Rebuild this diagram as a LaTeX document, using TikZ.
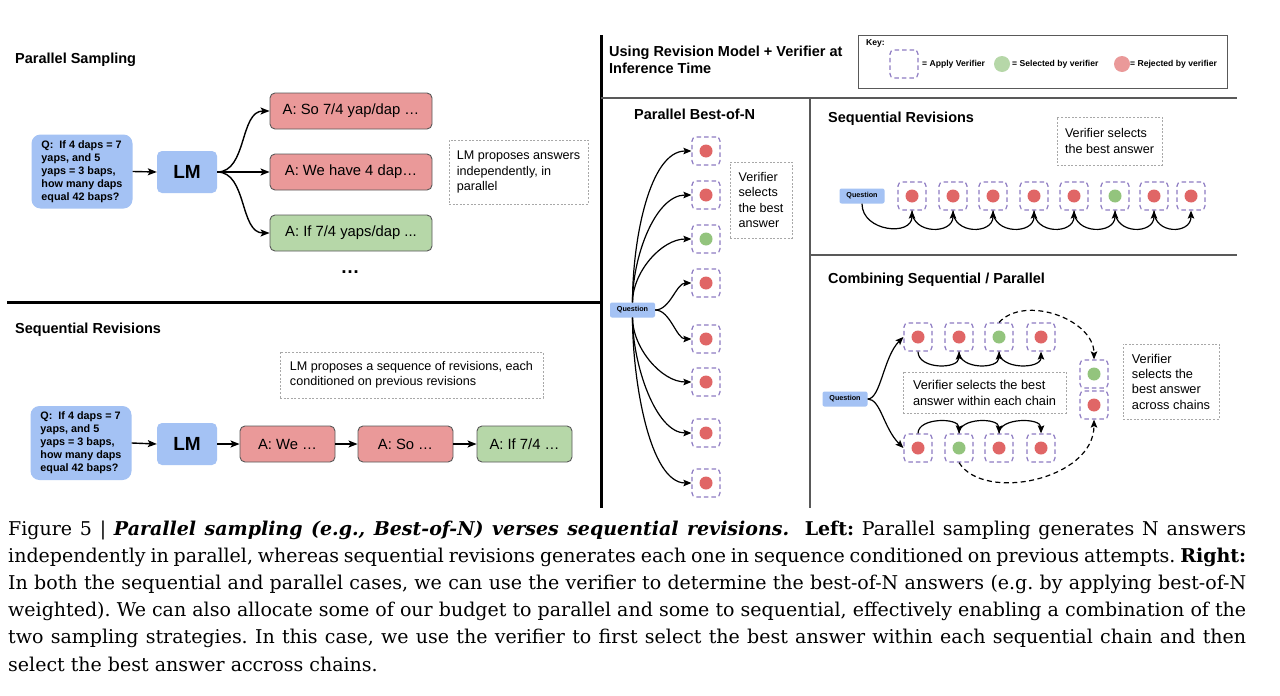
\documentclass[tikz,border=0pt]{standalone}
\usepackage{fontspec}
\setmainfont{DejaVu Serif}
\newfontfamily\arial{Liberation Sans}
\usetikzlibrary{arrows.meta}
\definecolor{qblue}{HTML}{A4C2F4}
\definecolor{ansred}{HTML}{EA9999}
\definecolor{ansgreen}{HTML}{B6D7A8}
\definecolor{dotred}{HTML}{E06666}
\definecolor{dotgreen}{HTML}{93C47D}
\definecolor{vpurple}{HTML}{8E7CC3}
\definecolor{notegray}{HTML}{A8A8A8}
\definecolor{framegray}{HTML}{595959}
\newcommand\fsz[2]{\fontsize{#1}{#2}\selectfont}
\begin{document}
\begin{tikzpicture}[x=1pt,y=-1pt,
  every node/.style={font=\arial},
  ttl/.style={anchor=west, inner sep=0, align=left, font=\arial\bfseries\fsz{14.5}{17}},
  qbox/.style={fill=qblue, rounded corners=9pt, minimum width=101pt, minimum height=74pt, inner sep=0, align=left, font=\arial\bfseries\fsz{10.8}{13}},
  lmbox/.style={fill=qblue, rounded corners=5pt, minimum width=60pt, minimum height=42pt, inner sep=0, font=\arial\bfseries\fsz{19}{20}},
  ans/.style={draw=framegray, line width=0.9pt, rounded corners=5pt, minimum height=36pt, inner sep=0, font=\arial\fsz{14.8}{16}},
  redans/.style={ans, fill=ansred},
  greenans/.style={ans, fill=ansgreen},
  note/.style={draw=notegray, dash pattern=on 2pt off 1.6pt, line width=0.8pt, inner sep=0, align=left, font=\arial\fsz{12.6}{15.3}},
  arr/.style={-{Stealth[length=9pt,width=7pt,inset=2pt]}, line width=1.4pt},
  sarr/.style={-{Stealth[length=8pt,width=6.5pt,inset=1.5pt]}, line width=1.2pt},
  darr/.style={sarr, dash pattern=on 5pt off 3.5pt},
  qn/.style={fill=qblue, rounded corners=2pt, minimum width=45pt, minimum height=15pt, inner sep=0, font=\arial\bfseries\fsz{7.2}{8}},
  vsq/.style={draw=vpurple, dash pattern=on 4.5pt off 3pt, line width=1.2pt, rounded corners=4pt, minimum size=28pt, inner sep=0},
  rdot/.style={circle, fill=dotred, minimum size=13pt, inner sep=0},
  gdot/.style={circle, fill=dotgreen, minimum size=13pt, inner sep=0},
  keyt/.style={anchor=west, inner sep=0, font=\arial\bfseries\fsz{8.6}{9}}
]
\useasboundingbox (0,0) rectangle (1280,696);
\fill[white] (0,0) rectangle (1280,696);

% ---------- left top: parallel sampling ----------
\node[ttl] (t1) at (15,60) {Parallel Sampling};
\node[qbox] (q1) at (82,171.5) {Q:\ \ If 4 daps = 7\\yaps, and 5\\yaps = 3 baps,\\how many daps\\equal 42 baps?};
\node[lmbox] (lm1) at (187,172) {LM};
\node[redans, minimum width=162pt] (a1) at (351,111) {A: So 7/4 yap/dap …};
\node[redans, minimum width=162pt] (a2) at (351,172) {A: We have 4 dap…};
\node[greenans, minimum width=162pt] (a3) at (351,233) {A: If 7/4 yaps/dap ...};
\node[inner sep=0, font=\arial\bfseries\fsz{19}{20}] (dots) at (350,272) {…};
\node[note, minimum width=139pt, minimum height=64pt] (n1) at (518.5,172) {LM proposes answers\\independently, in\\parallel};
\draw[arr] (q1.east) -- (lm1.west);
\draw[arr] (lm1.east) .. controls +(30,0) and +(-30,0) .. (a1.west);
\draw[arr] (lm1.east) -- (a2.west);
\draw[arr] (lm1.east) .. controls +(30,0) and +(-30,0) .. (a3.west);

\draw[line width=3pt] (7,302) -- (600,302);

% ---------- left bottom: sequential revisions ----------
\node[ttl] (t2) at (15,330) {Sequential Revisions};
\node[note, minimum width=263pt, minimum height=46pt] (n2) at (411.5,375) {LM proposes a sequence of revisions, each\\conditioned on previous revisions};
\node[qbox] (q2) at (81,443) {Q:\ \ If 4 daps = 7\\yaps, and 5\\yaps = 3 baps,\\how many daps\\equal 42 baps?};
\node[lmbox] (lm2) at (187,444) {LM};
\node[redans, minimum width=95pt] (b1) at (287.5,444) {A: We …};
\node[redans, minimum width=95pt] (b2) at (405.5,444) {A: So …};
\node[greenans, minimum width=95pt] (b3) at (524.5,444) {A: If 7/4 …};
\draw[arr] (q2.east) -- (lm2.west);
\draw[arr] (lm2.east) -- (b1.west);
\draw[arr] (b1.east) -- (b2.west);
\draw[arr] (b2.east) -- (b3.west);

\draw[line width=3pt] (601,35) -- (601,508);

% ---------- right header ----------
\node[ttl] (t3) at (609,59.5) {Using Revision Model + Verifier at\\Inference Time};
\node[draw=framegray, line width=0.8pt, minimum width=369pt, minimum height=53pt, inner sep=0] (key) at (1042.5,61.5) {};
\node[keyt] (keyl) at (866,43) {Key:};
\node[vsq] (ksq) at (904,64) {};
\node[keyt] (k1) at (922,64) {= Apply Verifier};
\node[circle, fill=ansgreen, minimum size=16pt, inner sep=0] (kg) at (1002,64) {};
\node[keyt] (k2) at (1012,64) {= Selected by verifier};
\node[circle, fill=ansred, minimum size=16pt, inner sep=0] (kr) at (1122,64) {};
\node[keyt] (k3) at (1130,64) {= Rejected by verifier};

\draw[framegray, line width=1.2pt] (601,98) -- (1237,98);
\draw[framegray, line width=1.2pt] (810,98) -- (810,508);
\draw[framegray, line width=1.2pt] (810,255) -- (1237,255);

% ---------- parallel best-of-N ----------
\node[ttl] (t4) at (634,114) {Parallel Best-of-N};
\node[qn] (pq) at (632.5,310) {Question};
\foreach \i/\yy/\dd in {1/151/rdot,2/195/rdot,3/239/gdot,4/283/rdot,5/339/rdot,6/382/rdot,7/433/rdot,8/483/rdot}{
  \node[vsq] (p\i) at (706,\yy) {};
  \node[\dd] (pd\i) at (p\i) {};
}
\node[note, minimum width=62pt, minimum height=76pt] (n3) at (761,200) {Verifier\\selects\\the best\\answer};
\draw[sarr] (pq.north) .. controls +(0,-62) and +(-42,0) .. (p1.west);
\draw[sarr] (pq.north) .. controls +(0,-46) and +(-36,0) .. (p2.west);
\draw[sarr] (pq.north) .. controls +(0,-30) and +(-30,0) .. (p3.west);
\draw[sarr] (pq.east) .. controls +(15,0) and +(-15,0) .. (p4.west);
\draw[sarr] (pq.east) .. controls +(15,0) and +(-15,0) .. (p5.west);
\draw[sarr] (pq.south) .. controls +(0,30) and +(-30,0) .. (p6.west);
\draw[sarr] (pq.south) .. controls +(0,46) and +(-36,0) .. (p7.west);
\draw[sarr] (pq.south) .. controls +(0,62) and +(-42,0) .. (p8.west);

% ---------- sequential revisions (right) ----------
\node[ttl] (t5) at (828,119) {Sequential Revisions};
\node[note, minimum width=105pt, minimum height=48pt] (n4) at (1109.5,141) {Verifier selects\\the best answer};
\node[qn] (sq) at (862,196) {Question};
\foreach \i/\xx/\dd in {1/912/rdot,2/953/rdot,3/993/rdot,4/1034/rdot,5/1074/rdot,6/1115/gdot,7/1154/rdot,8/1191/rdot}{
  \node[vsq] (s\i) at (\xx,196) {};
  \node[\dd] (sd\i) at (s\i) {};
}
\draw[sarr] (sq.south) .. controls +(0,28) and +(0,26) .. (s1.south);
\foreach \i/\j in {1/2,2/3,3/4,4/5,5/6,6/7,7/8}{
  \draw[sarr] (s\i.south) .. controls +(0,24) and +(0,24) .. (s\j.south);
}

% ---------- combining ----------
\node[ttl] (t6) at (828,280) {Combining Sequential / Parallel};
\node[qn] (cq) at (845,399) {Question};
\foreach \i/\xx/\dd in {1/918/rdot,2/959/rdot,3/999/gdot,4/1041/rdot}{
  \node[vsq] (c\i) at (\xx,337) {};
  \node[\dd] (cd\i) at (c\i) {};
}
\foreach \i/\xx/\dd in {1/918/rdot,2/959/gdot,3/999/rdot,4/1041/rdot}{
  \node[vsq] (d\i) at (\xx,448) {};
  \node[\dd] (dd\i) at (d\i) {};
}
\node[vsq] (e1) at (1094,374) {};
\node[gdot] (ed1) at (e1) {};
\node[vsq] (e2) at (1094,405) {};
\node[rdot] (ed2) at (e2) {};
\node[note, minimum width=163pt, minimum height=41pt, font=\arial\fsz{12.8}{16}] (n5) at (984.5,392.5) {Verifier selects the best\\answer within each chain};
\node[note, minimum width=96pt, minimum height=75pt, font=\arial\fsz{12.8}{15.3}] (n6) at (1171,381.5) {Verifier\\selects the\\best answer\\across chains};
\draw[sarr] (cq.east) .. controls +(13,0) and +(-20,20) .. (c1.west);
\draw[sarr] (cq.east) .. controls +(13,0) and +(-20,-20) .. (d1.west);
\foreach \i/\j in {1/2,2/3,3/4}{
  \draw[sarr] (c\i.south) .. controls +(0,18) and +(0,18) .. (c\j.south);
  \draw[sarr] (d\i.north) .. controls +(0,-16) and +(0,-16) .. (d\j.north);
}
\draw[darr] (c3.north) .. controls +(26,-28) and +(0,-40) .. (e1.north);
\draw[darr] (d2.south) .. controls +(25,40) and +(0,60) .. (e2.south);

% ---------- caption ----------
\node[anchor=base west, inner sep=0, font=\rmfamily] (cap) at (8,535) {\frenchspacing\fsz{19}{27.2}\vtop{\hsize=1238pt
\hbox to\hsize{Figure 5 \textbar\ \textbf{\textit{Parallel sampling (e.g., Best-of-N) verses sequential revisions.}}\ \ \textbf{Left:} Parallel sampling generates N answers}
\hbox to\hsize{independently in parallel, whereas sequential revisions generates each one in sequence conditioned on previous attempts. \textbf{Right:}}
\hbox to\hsize{In both the sequential and parallel cases, we can use the verifier to determine the best-of-N answers (e.g. by applying best-of-N}
\hbox to\hsize{weighted). We can also allocate some of our budget to parallel and some to sequential, effectively enabling a combination of the}
\hbox to\hsize{two sampling strategies. In this case, we use the verifier to first select the best answer within each sequential chain and then}
\hbox{select the best answer accross chains.}}};
\end{tikzpicture}
\end{document}
